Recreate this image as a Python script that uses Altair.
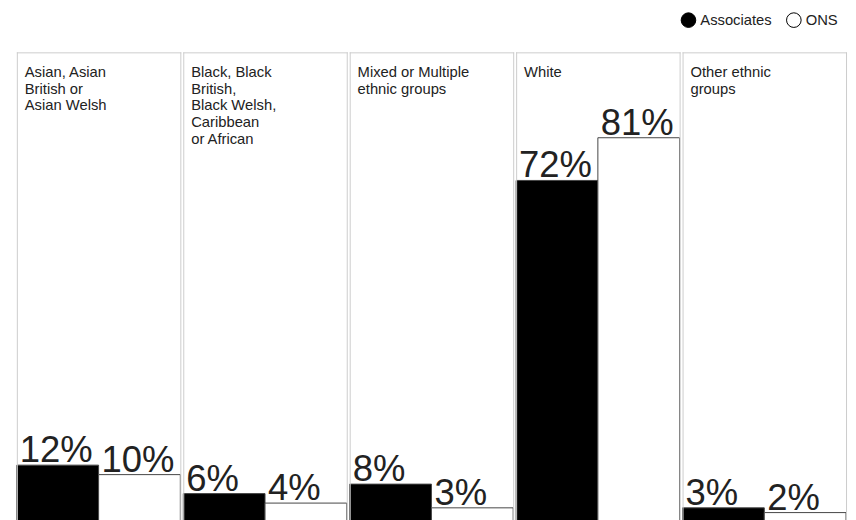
import altair as alt
import pandas as pd

categories = [
    "Asian, Asian British or Asian Welsh",
    "Black, Black British, Black Welsh, Caribbean or African",
    "Mixed or Multiple ethnic groups",
    "White",
    "Other ethnic groups",
]
category_labels = [
    "Asian, Asian\nBritish or\nAsian Welsh",
    "Black, Black\nBritish,\nBlack Welsh,\nCaribbean\nor African",
    "Mixed or Multiple\nethnic groups",
    "White",
    "Other ethnic\ngroups",
]
series = ["Associates", "ONS"]
associates = [12, 6, 8, 72, 3]
ons = [10, 4, 3, 81, 2]

rows = []
for cat, lab, a, o in zip(categories, category_labels, associates, ons):
    rows.append(dict(category=cat, label=lab, series="Associates", value=a, text=f"{a}%"))
    rows.append(dict(category=cat, label=lab, series="ONS", value=o, text=f"{o}%"))
df = pd.DataFrame(rows)

W = 166
H = 478

xscale = alt.Scale(domain=series, paddingInner=0, paddingOuter=0)
yscale = alt.Scale(domain=[0, 99], range=[H - 1, 0], nice=False)

bars = alt.Chart().mark_bar(stroke="#444444", strokeWidth=1).encode(
    x=alt.X("series:N", sort=series, axis=None, scale=xscale),
    y=alt.Y("value:Q", axis=None, scale=yscale),
    fill=alt.Fill(
        "series:N",
        sort=series,
        scale=alt.Scale(domain=series, range=["#000000", "#ffffff"]),
        legend=alt.Legend(
            title=None,
            orient="none",
            legendX=674,
            legendY=-41,
            padding=0,
            direction="horizontal",
            symbolType="circle",
            symbolSize=220,
            symbolStrokeColor="#000000",
            symbolStrokeWidth=1,
            labelFontSize=15,
            labelFont="Liberation Sans",
            labelColor="#222222",
            columnPadding=12,
            labelOffset=4,
        ),
    ),
)

values = alt.Chart().mark_text(
    align="left", baseline="alphabetic", dx=3, dy=-3,
    fontSize=37, font="Liberation Sans", color="#222222",
).encode(
    x=alt.X("series:N", sort=series, bandPosition=0, axis=None, scale=xscale),
    y=alt.Y("value:Q", axis=None, scale=yscale),
    text="text:N",
)

one = alt.Chart().transform_filter(alt.datum.series == "Associates")

labels = one.mark_text(
    align="left", baseline="alphabetic", lineBreak="\n", lineHeight=17,
    fontSize=15, font="Liberation Sans", color="#222222",
).encode(
    x=alt.value(8),
    y=alt.value(25),
    text="label:N",
)

left_rule = one.mark_rule(color="#cccccc", strokeWidth=1).encode(
    x=alt.value(0.5), y=alt.value(0), y2=alt.value(H)
)
right_rule = one.mark_rule(color="#cccccc", strokeWidth=1).encode(
    x=alt.value(W + 0.5), y=alt.value(0), y2=alt.value(H)
)
top_rule = one.mark_rule(color="#cccccc", strokeWidth=1).encode(
    x=alt.value(0), x2=alt.value(W + 1), y=alt.value(0.5)
)

chart = alt.layer(
    bars, values, labels, left_rule, right_rule, top_rule, data=df
).properties(
    width=W, height=H
).facet(
    column=alt.Column("category:N", sort=categories, header=None),
    spacing=0,
).properties(
    padding={"left": 8, "top": 0, "right": 0, "bottom": 0}
).configure_view(stroke=None)

chart.save("out.html", embed_options={"renderer": "svg", "actions": False})
